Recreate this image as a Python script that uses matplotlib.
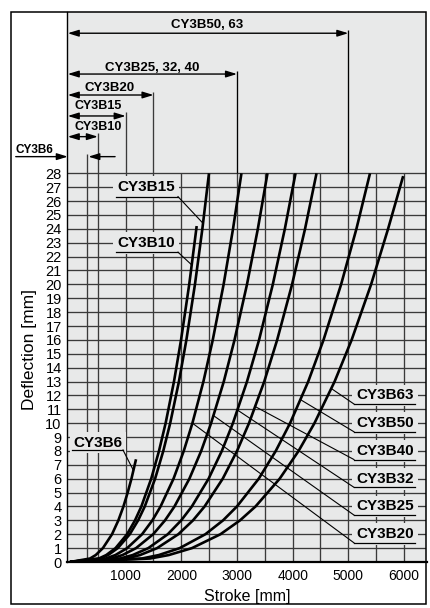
import numpy as np
import matplotlib.pyplot as plt
from matplotlib.patches import Rectangle

plt.rcParams['font.family'] = ['Liberation Sans', 'DejaVu Sans']

# deflection levels [mm]
defl_std = [0, 0.25, 0.5, 1, 2, 3, 4, 6, 8, 10, 13, 16, 20, 24, 28]

cy3b6_stroke = [0, 359, 462, 591, 755, 869, 960, 1036, 1104, 1186]
cy3b6_defl = [0, 0.25, 0.5, 1, 2, 3, 4, 5, 6, 7.4]
cy3b10_stroke = [0, 518, 651, 818, 1025, 1168, 1282, 1459, 1599, 1718, 1868, 1995, 2142, 2276]
cy3b10_defl = [0, 0.25, 0.5, 1, 2, 3, 4, 6, 8, 10, 13, 16, 20, 24.2]
cy3b15_stroke = [0, 544, 684, 858, 1074, 1224, 1343, 1529, 1676, 1800, 1957, 2091, 2245, 2378, 2497]
cy3b20_stroke = [0, 644, 815, 1027, 1295, 1480, 1627, 1860, 2044, 2199, 2397, 2565, 2760, 2929, 3080]
cy3b25_stroke = [0, 747, 943, 1187, 1494, 1707, 1877, 2145, 2357, 2535, 2763, 2956, 3180, 3375, 3548]
cy3b32_stroke = [0, 900, 1126, 1407, 1757, 1998, 2189, 2490, 2728, 2927, 3180, 3397, 3644, 3860, 4052]
cy3b40_stroke = [0, 1010, 1258, 1565, 1946, 2210, 2418, 2744, 3001, 3216, 3490, 3722, 3990, 4223, 4429]
cy3b50_stroke = [0, 1291, 1595, 1971, 2432, 2750, 2999, 3391, 3697, 3954, 4280, 4555, 4871, 5146, 5390]
cy3b63_stroke = [0, 1436, 1774, 2191, 2703, 3055, 3333, 3767, 4107, 4392, 4754, 5060, 5410, 5715, 5986]
cy3b63_defl = [0, 0.25, 0.5, 1, 2, 3, 4, 6, 8, 10, 13, 16, 20, 24, 27.8]

curves = {
    'CY3B6': (cy3b6_stroke, cy3b6_defl),
    'CY3B10': (cy3b10_stroke, cy3b10_defl),
    'CY3B15': (cy3b15_stroke, defl_std),
    'CY3B20': (cy3b20_stroke, defl_std),
    'CY3B25': (cy3b25_stroke, defl_std),
    'CY3B32': (cy3b32_stroke, defl_std),
    'CY3B40': (cy3b40_stroke, defl_std),
    'CY3B50': (cy3b50_stroke, defl_std),
    'CY3B63': (cy3b63_stroke, cy3b63_defl),
}

# max stroke ranges shown above the chart
range_names = ['CY3B10', 'CY3B15', 'CY3B20', 'CY3B25, 32, 40', 'CY3B50, 63']
range_limits = [500, 1000, 1500, 3000, 5000]
cy3b6_limit = 300

grid_x = [300] + list(range(500, 6001, 500))
x_ticks = [1000, 2000, 3000, 4000, 5000, 6000]
y_ticks = list(range(0, 29))

# labels on the right: name, label centre y, deflection where leader meets curve
right_names = ['CY3B63', 'CY3B50', 'CY3B40', 'CY3B32', 'CY3B25', 'CY3B20']
right_label_y = [12, 10, 8, 6, 4, 2]
right_hit = [12.5, 11.7, 11.2, 10.95, 10.55, 10.0]

left_names = ['CY3B15', 'CY3B10']
left_label_y = [27, 23]
left_hit = [24.4, 21.4]

bg = '#e8e9e9'
gc = '#3a3a3a'
W, H = 431, 608
fig = plt.figure(figsize=(W / 100, H / 100), dpi=100)

ax_l, ax_r, ax_t, ax_b = 67.5, 426.5, 11.5, 562
ax = fig.add_axes([ax_l / W, 1 - ax_b / H, (ax_r - ax_l) / W, (ax_b - ax_t) / H])
ax.set_facecolor(bg)
x0, x1 = -45, 6405
ytop = 28 + (173.3 - ax_t) / 13.882
ax.set_xlim(x0, x1)
ax.set_ylim(0, ytop)

# grid
ax.hlines(range(1, 29), x0, x1, color=gc, lw=0.95, zorder=1)
ax.vlines(grid_x, 0, 28, color=gc, lw=0.95, zorder=1)

# curves
for name, (s, d) in curves.items():
    ax.plot(s, d, color='black', lw=1.9, zorder=4, solid_capstyle='butt')

# stroke range arrows at the top
arrow_y = [30.64, 32.13, 33.64, 35.15, 38.09]
text_y = [31.36, 32.85, 34.17, 35.61, 38.68]
text_x = [498, 498, 719, 1468, 2461]
text_fs = [9, 9, 9.5, 9.5, 9.5]
aprops = dict(arrowstyle='<|-|>,head_length=0.65,head_width=0.2', mutation_scale=10,
              lw=1.0, color='black', shrinkA=0, shrinkB=0)
for name, lim, ay, ty, tx, fs in zip(range_names, range_limits, arrow_y, text_y, text_x, text_fs):
    ax.vlines(lim, 28, ay + 0.25, color='black' if lim in (3000, 5000) else gc, lw=0.95, zorder=1)
    ax.annotate('', xy=(lim, ay), xytext=(-40, ay), arrowprops=aprops, annotation_clip=False)
    ax.text(tx, ty, name, ha='center', va='center', fontsize=fs, fontweight='bold')

# CY3B6: outside arrows
y6 = 29.2
ax.vlines(cy3b6_limit, 28, 29.39, color=gc, lw=0.95, zorder=1)
one = dict(arrowstyle='-|>,head_length=0.65,head_width=0.2', mutation_scale=10,
           lw=1.0, color='black', shrinkA=0, shrinkB=0)
ax.annotate('', xy=(-40, y6), xytext=(-975, y6), arrowprops=one, annotation_clip=False)
ax.annotate('', xy=(cy3b6_limit + 30, y6), xytext=(810, y6), arrowprops=one, annotation_clip=False)
ax.text(-634, 29.68, 'CY3B6', ha='center', va='center', fontsize=8.5, fontweight='bold', clip_on=False)

lbl_box = dict(boxstyle='square,pad=0.25', fc=bg, ec='none')


def hit_x(name, d):
    s, dd = curves[name]
    return np.interp(d, dd, s)


# right-side labels
for name, ly, hd in zip(right_names, right_label_y, right_hit):
    ax.text(5659, ly, name, ha='center', va='center', fontsize=11, fontweight='bold',
            bbox=lbl_box, zorder=3)
    uy = ly - 0.62
    ax.plot([5102, 6198], [uy, uy], color='black', lw=0.9, zorder=5)
    ax.plot([hit_x(name, hd), 5102], [hd, uy], color='black', lw=0.8, zorder=5)

# left-side labels
for name, ly, hd in zip(left_names, left_label_y, left_hit):
    ax.text(1365, ly, name, ha='center', va='center', fontsize=11, fontweight='bold',
            bbox=lbl_box, zorder=3)
    uy = ly - 0.68
    ax.plot([826, 1940], [uy, uy], color='black', lw=0.9, zorder=5)
    ax.plot([1940, hit_x(name, hd)], [uy, hd], color='black', lw=0.8, zorder=5)

ax.text(503, 8.6, 'CY3B6', ha='center', va='center', fontsize=11, fontweight='bold',
        bbox=lbl_box, zorder=3)
ax.plot([36, 952], [8.07, 8.07], color='black', lw=0.9, zorder=5)
ax.plot([952, hit_x('CY3B6', 6.6)], [8.07, 6.6], color='black', lw=0.8, zorder=5)

# axes styling
ax.set_xticks(x_ticks)
ax.set_yticks(y_ticks)
ax.tick_params(length=0, labelsize=10)
ax.tick_params(axis='y', pad=4.2, labelsize=10.5)
ax.tick_params(axis='x', pad=5)
for side in ['top', 'right']:
    ax.spines[side].set_visible(False)
ax.spines['left'].set_linewidth(1.0)
ax.spines['bottom'].set_linewidth(1.6)

ax.set_xlabel('Stroke [mm]', fontsize=11.5, labelpad=4)
fig.text(30 / W, 1 - 349 / H, 'Deflection [mm]', rotation=90, ha='center', va='center', fontsize=12.5)

fig.patches.append(Rectangle((11 / W, 1 - 604 / H), (426.5 - 11) / W, (604 - 11.5) / H,
                             transform=fig.transFigure, fill=False, ec='black', lw=1.1))

fig.savefig('out.png', dpi=100)
